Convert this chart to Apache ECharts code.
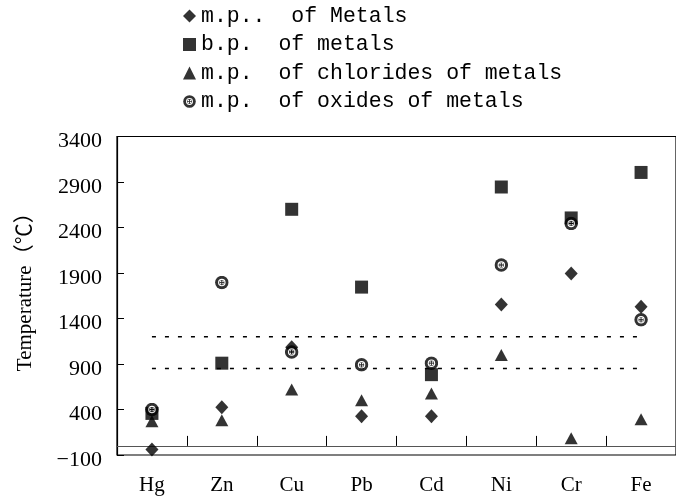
<!DOCTYPE html>
<html>
<head>
<meta charset="utf-8">
<script src="https://cdn.jsdelivr.net/npm/echarts@6/dist/echarts.min.js"></script>
<style>
  html, body { margin: 0; padding: 0; background: #fff; }
  #chart { width: 676px; height: 496px; }
</style>
</head>
<body>
<div id="chart"></div>
<script>
// Metals and their characteristic temperatures (°C)
var metals = ['Hg', 'Zn', 'Cu', 'Pb', 'Cd', 'Ni', 'Cr', 'Fe'];
var meltMetal    = [-39, 424, 1084, 327, 325, 1555, 1895, 1530];
var boilMetal    = [357, 909, 2600, 1745, 783, 2845, 2505, 3005];
var meltChloride = [270, 283, 620, 503, 575, 1000, 83, 292];
var meltOxide    = [400, 1795, 1032, 891, 909, 1988, 2444, 1386];

// Reference temperature levels drawn as dashed lines
var upperLevel = [1200, 1200, 1200, 1200, 1200, 1200, 1200, 1200];
var lowerLevel = [850, 850, 850, 850, 850, 850, 850, 850];

var seriesNames = ['m.p..  of Metals', 'b.p.  of metals', 'm.p.  of chlorides of metals', 'm.p.  of oxides of metals'];

// Speckled black disc marker for oxides
var oxideSvg = "<svg xmlns='http://www.w3.org/2000/svg' width='28' height='28' viewBox='0 0 28 28'>" +
  "<circle cx='14' cy='14' r='13.5' fill='black'/>" +
  "<circle cx='14' cy='14' r='7.5' fill='white'/>" +
  "<circle cx='14' cy='14' r='5.2' fill='black'/>" +
  "<circle cx='11.6' cy='11.6' r='1.6' fill='white'/>" +
  "<circle cx='16.4' cy='11.6' r='1.6' fill='white'/>" +
  "<circle cx='11.6' cy='16.4' r='1.6' fill='white'/>" +
  "<circle cx='16.4' cy='16.4' r='1.6' fill='white'/>" +
  "</svg>";
var oxideSymbol = 'image://data:image/svg+xml;charset=utf-8,' + encodeURIComponent(oxideSvg);

var serif = '"Liberation Serif", "Times New Roman", "Noto Sans CJK SC", serif';

var chart = echarts.init(document.getElementById('chart'), null, { renderer: 'canvas' });

function dashed(data) {
  return {
    type: 'line',
    data: data,
    symbol: 'none',
    silent: true,
    lineStyle: { color: '#000', width: 1.5, type: [4, 9] },
    z: 1
  };
}

function points(name, data, symbol, size) {
  return {
    name: name,
    type: 'scatter',
    data: data,
    symbol: symbol,
    symbolSize: size,
    itemStyle: { color: '#000' },
    z: 3
  };
}

chart.setOption({
  animation: false,
  backgroundColor: '#fff',
  legend: {
    data: seriesNames,
    orient: 'vertical',
    left: 183,
    top: 5,
    padding: 0,
    itemWidth: 13,
    itemHeight: 13,
    itemGap: 6.5,
    textStyle: {
      fontFamily: '"Liberation Mono", monospace',
      fontSize: 21.5,
      lineHeight: 22,
      color: '#000'
    }
  },
  grid: {
    left: 117,
    top: 136.5,
    width: 570,
    height: 325,
    show: true,
    borderColor: '#000',
    borderWidth: 1.2
  },
  xAxis: {
    type: 'category',
    data: metals,
    boundaryGap: true,
    axisLine: { onZero: true, lineStyle: { color: '#555', width: 1 } },
    axisTick: { show: true, inside: true, length: 10, lineStyle: { color: '#000', width: 1 } },
    axisLabel: { margin: 20, fontFamily: serif, fontSize: 21, color: '#000' },
    splitLine: { show: false }
  },
  yAxis: {
    type: 'value',
    min: -100,
    max: 3400,
    interval: 500,
    name: 'Temperature\uff08\u2103\uff09',
    nameLocation: 'middle',
    nameGap: 81,
    nameTextStyle: { fontFamily: serif, fontSize: 21, color: '#000', padding: [0, 0, 0, 18] },
    axisLine: { show: true, lineStyle: { color: '#000', width: 1.2 } },
    axisTick: { show: true, inside: true, length: 7, lineStyle: { color: '#000' } },
    axisLabel: {
      margin: 15,
      color: '#000',
      formatter: function (v) {
        return '{t|' + (v < 0 ? '\u2212' + Math.abs(v) : String(v)) + '}';
      },
      rich: {
        t: { fontFamily: serif, fontSize: 22, color: '#000', padding: [10, 0, 0, 0] }
      }
    },
    splitLine: { show: false }
  },
  series: [
    dashed(upperLevel),
    dashed(lowerLevel),
    points(seriesNames[0], meltMetal, 'diamond', [13, 14]),
    points(seriesNames[1], boilMetal, 'rect', 13),
    points(seriesNames[2], meltChloride, 'triangle', [13, 12]),
    points(seriesNames[3], meltOxide, oxideSymbol, 14)
  ]
});
</script>
</body>
</html>
